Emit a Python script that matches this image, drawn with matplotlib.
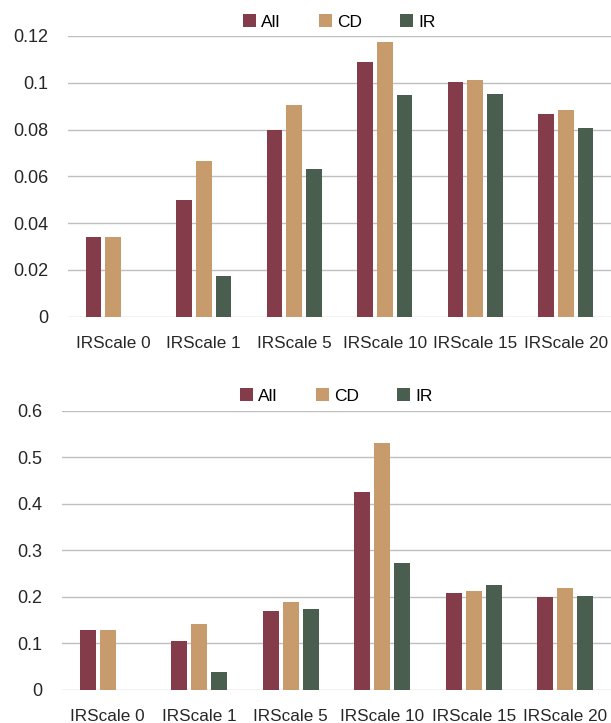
import numpy as np
import matplotlib
matplotlib.use("Agg")
import matplotlib.pyplot as plt
from matplotlib.patches import Patch

categories = ["IRScale 0", "IRScale 1", "IRScale 5", "IRScale 10", "IRScale 15", "IRScale 20"]
series_names = ["All", "CD", "IR"]

top_all = [0.034, 0.050, 0.080, 0.109, 0.1003, 0.0865]
top_cd = [0.034, 0.0667, 0.0906, 0.1173, 0.1013, 0.0885]
top_ir = [np.nan, 0.0173, 0.0631, 0.0948, 0.0953, 0.0808]

bot_all = [0.129, 0.1045, 0.170, 0.4264, 0.2075, 0.1996]
bot_cd = [0.129, 0.141, 0.1895, 0.5307, 0.2125, 0.2196]
bot_ir = [np.nan, 0.039, 0.1745, 0.272, 0.2247, 0.2017]

top_ticks = [0, 0.02, 0.04, 0.06, 0.08, 0.1, 0.12]
top_ticklabels = ["0", "0.02", "0.04", "0.06", "0.08", "0.1", "0.12"]
bot_ticks = [0, 0.1, 0.2, 0.3, 0.4, 0.5, 0.6]
bot_ticklabels = ["0", "0.1", "0.2", "0.3", "0.4", "0.5", "0.6"]

colors = ["#843C4B", "#C89B6C", "#4A5E4F"]

plt.rcParams['font.family'] = ['Liberation Sans', 'DejaVu Sans']

fig = plt.figure(figsize=(6.11, 7.23), dpi=100)
W, H = 611, 723


def draw(rect, data, ticks, ticklabels, ymax, legend_y):
    ax = fig.add_axes(rect)
    x = np.arange(len(categories))
    w = 0.173
    step = 0.22
    for i, (vals, c) in enumerate(zip(data, colors)):
        ax.bar(x + (i - 1) * step, vals, width=w, color=c, zorder=3)
    ax.set_xlim(-0.5, len(categories) - 0.5)
    ax.set_ylim(0, ymax)
    ax.set_yticks(ticks)
    ax.set_yticklabels(ticklabels, fontsize=13, color="#262626")
    ax.set_xticks(x)
    ax.set_xticklabels(categories, fontsize=12.3, color="#262626")
    ax.tick_params(axis='both', length=0)
    ax.tick_params(axis='y', pad=14)
    ax.tick_params(axis='x', pad=14)
    ax.grid(axis='y', color="#BFBFBF", linewidth=1.0, zorder=0)
    for s in ax.spines.values():
        s.set_visible(False)
    handles = [Patch(facecolor=c, label=n) for c, n in zip(colors, series_names)]
    cx = rect[0] + rect[2] / 2
    fig.legend(handles=handles, loc='center', bbox_to_anchor=(cx, legend_y), ncol=3,
               frameon=False, fontsize=12.5, handlelength=0.75, handleheight=0.75,
               handletextpad=0.3, columnspacing=2.2)
    return ax


draw([68 / W, 1 - 316.7 / H, (611 - 68) / W, (316.7 - 36) / H],
     [top_all, top_cd, top_ir], top_ticks, top_ticklabels, 0.12, 1 - 22 / H)
draw([62 / W, 1 - 690 / H, (611 - 62) / W, (690 - 410.7) / H],
     [bot_all, bot_cd, bot_ir], bot_ticks, bot_ticklabels, 0.6, 1 - 396 / H)

fig.savefig("out.png", dpi=100)
